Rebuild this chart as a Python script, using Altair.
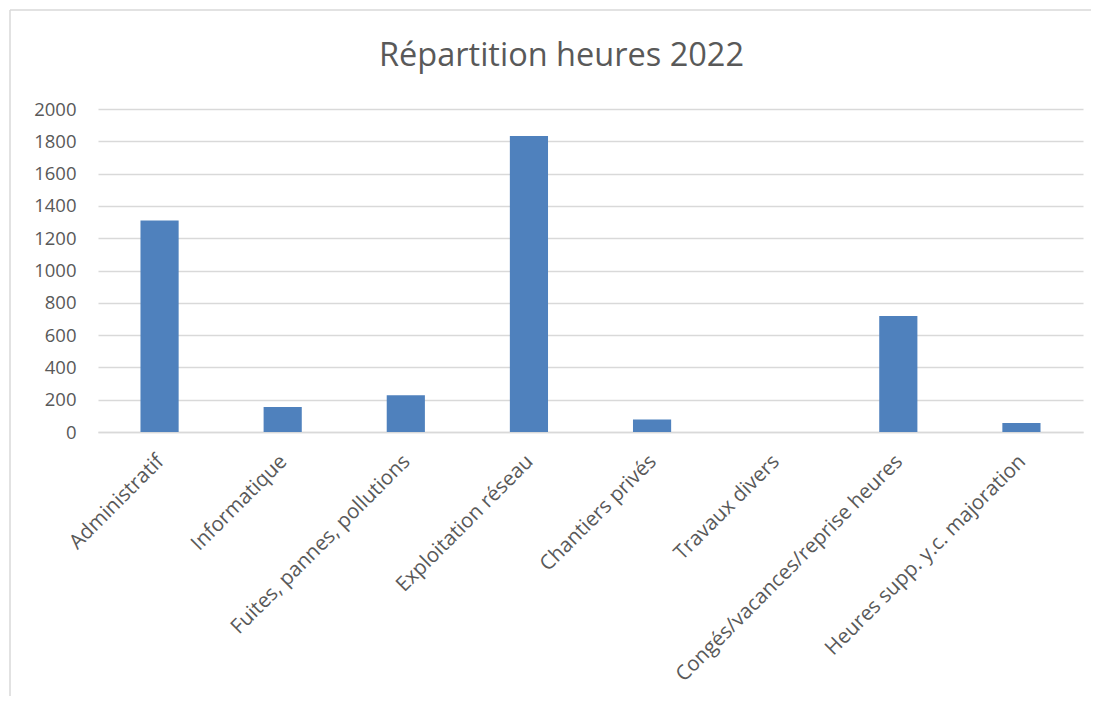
import altair as alt
import pandas as pd

categories = [
    "Administratif",
    "Informatique",
    "Fuites, pannes, pollutions",
    "Exploitation réseau",
    "Chantiers privés",
    "Travaux divers",
    "Congés/vacances/reprise heures",
    "Heures supp. y.c. majoration",
]
heures = [1310, 155, 227, 1833, 77, 0, 719, 56]
y_ticks = [0, 200, 400, 600, 800, 1000, 1200, 1400, 1600, 1800, 2000]

df = pd.DataFrame({"cat": categories, "h": heures})

FONT = "Open Sans"
GREY = "#595959"

bars = alt.Chart(df).mark_bar(color="#4F81BD").encode(
    x=alt.X(
        "cat:N",
        sort=categories,
        title=None,
        scale=alt.Scale(paddingInner=0.69, paddingOuter=0.345),
        axis=alt.Axis(
            labelAngle=-45,
            labelAlign="right",
            labelBaseline="top",
            labelFontSize=20.5,
            labelColor=GREY,
            labelFont=FONT,
            labelPadding=19,
            labelOffset=-6,
            ticks=False,
            domainColor="#d9d9d9",
            domainWidth=1.5,
            labelLimit=400,
        ),
    ),
    y=alt.Y(
        "h:Q",
        title=None,
        scale=alt.Scale(domain=[0, 2000], nice=False),
        axis=alt.Axis(
            values=y_ticks,
            format="d",
            labelFontSize=18.5,
            labelColor=GREY,
            labelFont=FONT,
            labelPadding=22,
            ticks=False,
            domain=False,
            gridColor="#d9d9d9",
            gridWidth=1.5,
        ),
    ),
)

frame = pd.DataFrame({"k": [0]})
left_border = alt.Chart(frame).mark_rule(color="#d9d9d9", strokeWidth=1.5).encode(
    x=alt.value(-88), y=alt.value(-99), y2=alt.value(700)
)
top_border = alt.Chart(frame).mark_rule(color="#d9d9d9", strokeWidth=1.5).encode(
    x=alt.value(-88), x2=alt.value(1100), y=alt.value(-99)
)

chart = alt.layer(left_border, top_border, bars).properties(
    width=985,
    height=323,
    autosize=alt.AutoSizeParams(type="none"),
    padding={"left": 90, "top": 101, "right": 8, "bottom": 264},
    title=alt.TitleParams(
        "Répartition heures 2022",
        font=FONT,
        fontSize=32.5,
        fontWeight="normal",
        color=GREY,
        anchor="middle",
        baseline="alphabetic",
        dx=-29,
        dy=89,
        offset=0,
    ),
).configure_view(stroke=None)

chart.save("out.html", embed_options={"renderer": "svg", "actions": False})
